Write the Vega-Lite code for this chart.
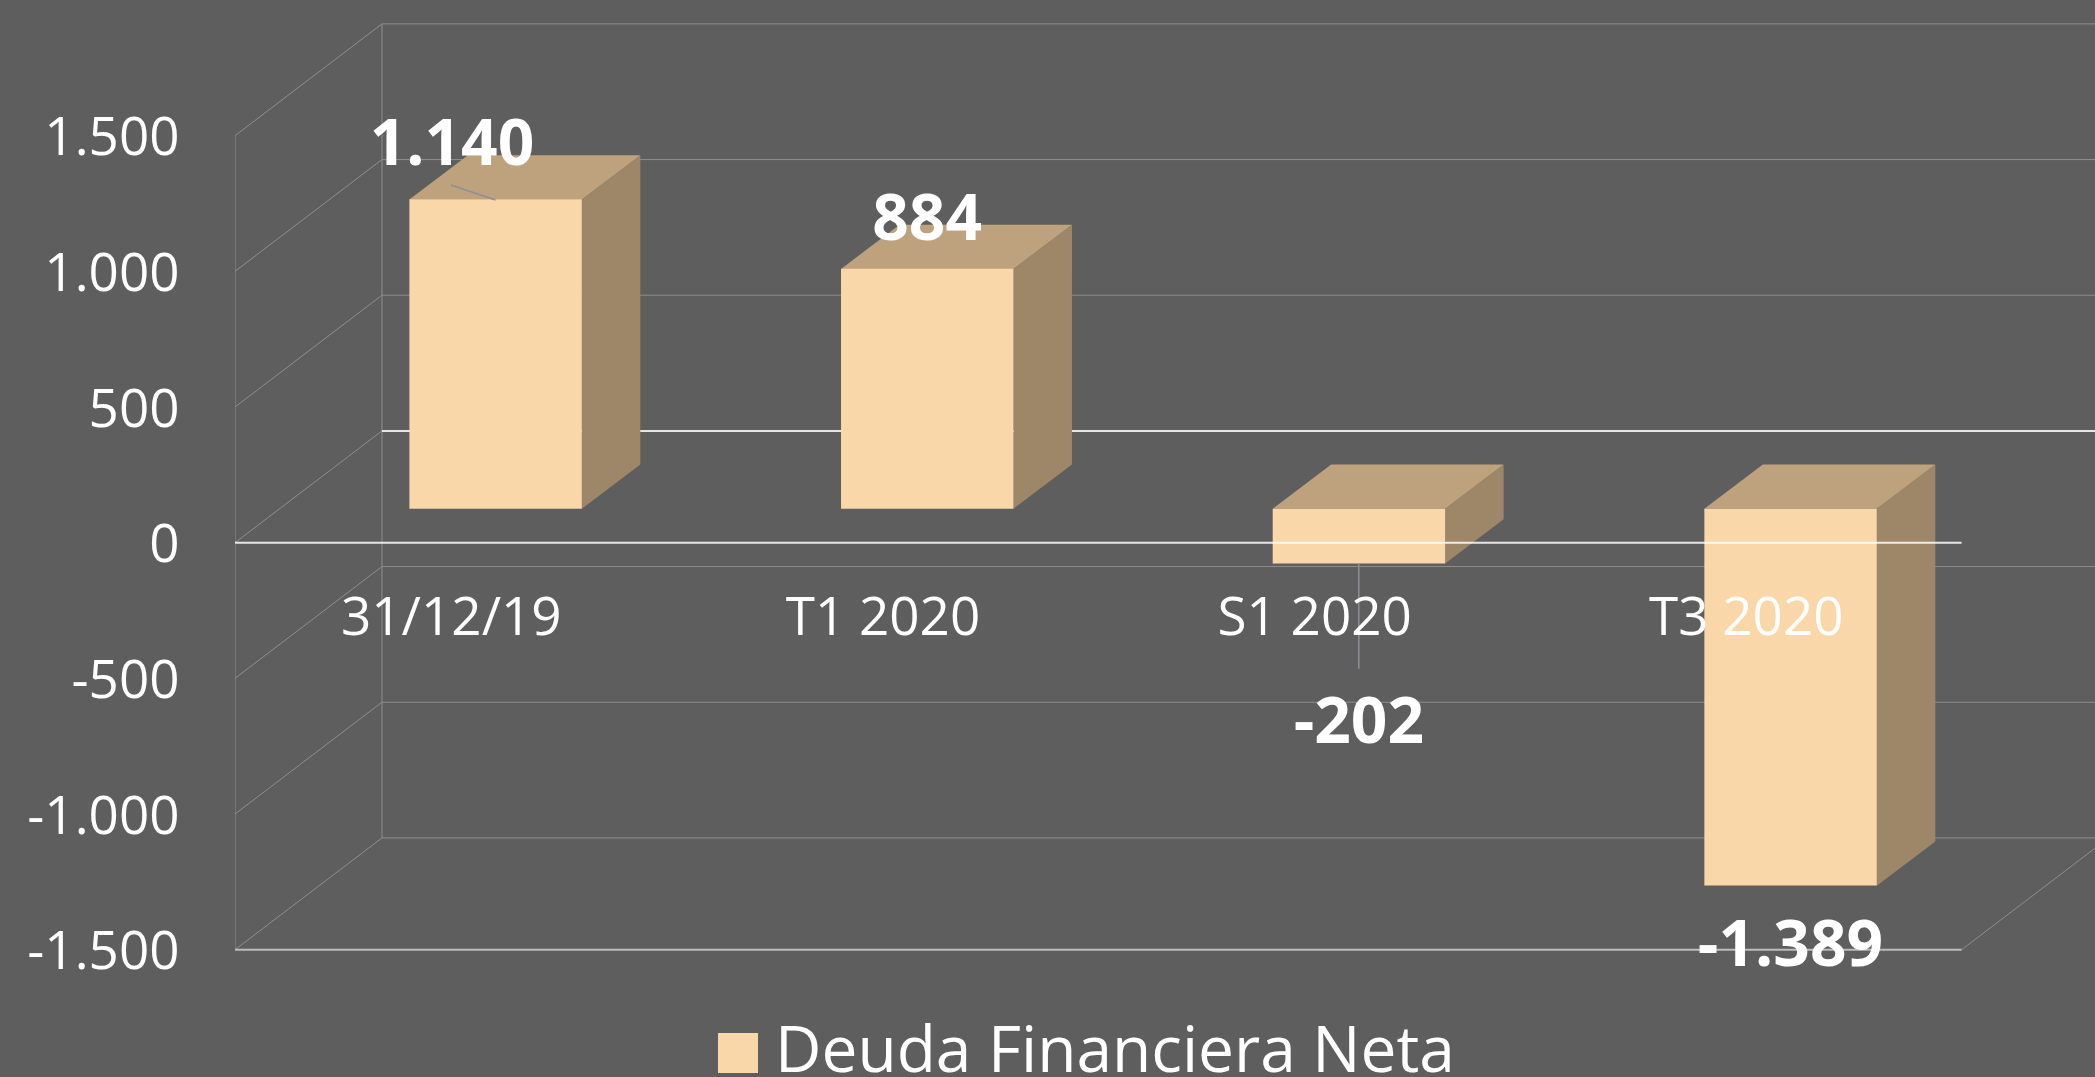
{
"$schema":"https://vega.github.io/schema/vega-lite/v6.json",
"autosize":"none",
"width":1860,"height":1077,
"padding":{"left":235,"top":0,"right":0,"bottom":0},
"background":"#5e5e5e",
"config":{"view":{"stroke":null},"font":"Open Sans","locale":{"number":{"decimal":",","thousands":".","grouping":[3],"currency":["","€"],"minus":"-"}}},
"datasets":{
"barras":[
{"periodo":"31/12/19","serie":"Deuda Financiera Neta","valor":1140,"xIni":0.404,"xFin":0.8035,"xEtiqueta":0.5027,"yEtiqueta":1393},
{"periodo":"T1 2020","serie":"Deuda Financiera Neta","valor":884,"xIni":1.404,"xFin":1.8035,"xEtiqueta":1.6035,"yEtiqueta":1115},
{"periodo":"S1 2020","serie":"Deuda Financiera Neta","valor":-202,"xIni":2.404,"xFin":2.8035,"xEtiqueta":2.6035,"yEtiqueta":-738},
{"periodo":"T3 2020","serie":"Deuda Financiera Neta","valor":-1389,"xIni":3.404,"xFin":3.8035,"xEtiqueta":3.6035,"yEtiqueta":-1559}
],
"lateral":[
{"periodo":"31/12/19","x":0.8035,"y":1265,"y2":125},{"periodo":"31/12/19","x":0.939,"y":1428,"y2":288},
{"periodo":"T1 2020","x":1.8035,"y":1009,"y2":125},{"periodo":"T1 2020","x":1.939,"y":1172,"y2":288},
{"periodo":"S1 2020","x":2.8035,"y":125,"y2":-77},{"periodo":"S1 2020","x":2.939,"y":288,"y2":86},
{"periodo":"T3 2020","x":3.8035,"y":125,"y2":-1264},{"periodo":"T3 2020","x":3.939,"y":288,"y2":-1101}
],
"superior":[
{"periodo":"31/12/19","y":1265,"x":0.404,"x2":0.8035},{"periodo":"31/12/19","y":1428,"x":0.5395,"x2":0.939},
{"periodo":"T1 2020","y":1009,"x":1.404,"x2":1.8035},{"periodo":"T1 2020","y":1172,"x":1.5395,"x2":1.939},
{"periodo":"S1 2020","y":125,"x":2.404,"x2":2.8035},{"periodo":"S1 2020","y":288,"x":2.5395,"x2":2.939},
{"periodo":"T3 2020","y":125,"x":3.404,"x2":3.8035},{"periodo":"T3 2020","y":288,"x":3.5395,"x2":3.939}
],
"rejilla":[
{"x":0.3405,"x2":4.309,"y":1912,"y2":1912},{"x":0.3405,"x2":4.309,"y":1412,"y2":1412},{"x":0.3405,"x2":4.309,"y":912,"y2":912},
{"x":0.3405,"x2":4.309,"y":-88,"y2":-88},{"x":0.3405,"x2":4.309,"y":-588,"y2":-588},{"x":0.3405,"x2":4.309,"y":-1088,"y2":-1088},
{"x":0,"x2":0.3405,"y":1500,"y2":1912},{"x":0,"x2":0.3405,"y":1000,"y2":1412},{"x":0,"x2":0.3405,"y":500,"y2":912},
{"x":0,"x2":0.3405,"y":0,"y2":412},{"x":0,"x2":0.3405,"y":-500,"y2":-88},{"x":0,"x2":0.3405,"y":-1000,"y2":-588},{"x":0,"x2":0.3405,"y":-1500,"y2":-1088},
{"x":0,"x2":0,"y":-1500,"y2":1500},{"x":0.3405,"x2":0.3405,"y":-1088,"y2":1912},
{"x":4,"x2":4.3405,"y":-1500,"y2":-1088}
],
"planoFondo":[{"x":0.3405,"x2":4.309,"y":412,"y2":412}],
"suelo":[{"x":0,"x2":4,"y":-1500,"y2":-1500}],
"cero":[{"x":0,"x2":4,"y":0,"y2":0}],
"guias":[{"x":0.5004,"x2":0.6035,"y":1318,"y2":1263},{"x":2.6035,"x2":2.6035,"y":-77,"y2":-465}]
},
"layer":[
{"data":{"name":"rejilla"},"mark":{"type":"rule","stroke":"#8e8e8e","strokeWidth":1,"clip":true},
 "encoding":{
  "x":{"field":"x","type":"quantitative","scale":{"domain":[0,4.309],"nice":false,"zero":false},"title":null,
   "axis":{"values":[0.5,1.5,2.5,3.5],"labelExpr":"datum.value==0.5?'31/12/19':datum.value==1.5?'T1 2020':datum.value==2.5?'S1 2020':'T3 2020'","orient":"bottom","offset":-443,"domain":false,"ticks":false,"grid":false,"labelPadding":0,"labelBaseline":"alphabetic","labelFontSize":53,"labelFont":"Open Sans","labelColor":"#ffffff","labelOverlap":false,"labelFlush":false,"labelLimit":500,"zindex":1}},
  "x2":{"field":"x2"},
  "y":{"field":"y","type":"quantitative","scale":{"domain":[-1969.2,2000],"nice":false,"zero":false},"title":null,
   "axis":{"values":[-1500,-1000,-500,0,500,1000,1500],"labelExpr":"format(datum.value,',.0f')","domain":false,"ticks":false,"grid":false,"labelPadding":56,"labelOffset":3,"labelFontSize":53,"labelFont":"Open Sans","labelColor":"#ffffff","labelOverlap":false,"labelFlush":false,"labelLimit":500}},
  "y2":{"field":"y2"}}},
{"data":{"name":"planoFondo"},"mark":{"type":"rule","stroke":"#e6e6e6","strokeWidth":2},
 "encoding":{"x":{"field":"x","type":"quantitative"},"x2":{"field":"x2"},"y":{"field":"y","type":"quantitative"},"y2":{"field":"y2"}}},
{"data":{"name":"suelo"},"mark":{"type":"rule","stroke":"#bdbdbd","strokeWidth":2},
 "encoding":{"x":{"field":"x","type":"quantitative"},"x2":{"field":"x2"},"y":{"field":"y","type":"quantitative"},"y2":{"field":"y2"}}},
{"data":{"name":"lateral"},"mark":{"type":"area","orient":"vertical","color":"#9e8768"},
 "encoding":{"x":{"field":"x","type":"quantitative"},"y":{"field":"y","type":"quantitative","stack":false},"y2":{"field":"y2"},"detail":{"field":"periodo"}}},
{"data":{"name":"superior"},"mark":{"type":"area","orient":"horizontal","color":"#bda27d"},
 "encoding":{"y":{"field":"y","type":"quantitative"},"x":{"field":"x","type":"quantitative","stack":false},"x2":{"field":"x2"},"detail":{"field":"periodo"}}},
{"data":{"name":"barras"},"mark":{"type":"rect","yOffset":-34,"y2Offset":-34},
 "encoding":{"x":{"field":"xIni","type":"quantitative"},"x2":{"field":"xFin"},"y":{"field":"valor","type":"quantitative"},"y2":{"datum":0},
  "fill":{"field":"serie","type":"nominal","scale":{"range":["#f9d7a9"]},"title":null,
   "legend":{"orient":"none","legendX":471,"legendY":1021,"symbolType":"square","symbolSize":1600,"symbolStrokeWidth":0,"labelFontSize":64,"labelFont":"Open Sans","labelColor":"#ffffff","labelOffset":5,"labelLimit":900,"padding":0}}}},
{"data":{"name":"guias"},"mark":{"type":"rule","stroke":"#8b9096","strokeWidth":1.5},
 "encoding":{"x":{"field":"x","type":"quantitative"},"x2":{"field":"x2"},"y":{"field":"y","type":"quantitative"},"y2":{"field":"y2"}}},
{"data":{"name":"cero"},"mark":{"type":"rule","stroke":"#ffffff","strokeWidth":2,"opacity":0.85},
 "encoding":{"x":{"field":"x","type":"quantitative"},"x2":{"field":"x2"},"y":{"field":"y","type":"quantitative"},"y2":{"field":"y2"}}},
{"data":{"name":"barras"},"mark":{"type":"text","font":"Open Sans","fontWeight":"bold","fontSize":64,"color":"#ffffff","align":"center","baseline":"alphabetic"},
 "encoding":{"x":{"field":"xEtiqueta","type":"quantitative"},"y":{"field":"yEtiqueta","type":"quantitative"},"text":{"field":"valor","type":"quantitative","format":",.0f"}}}
]
}
